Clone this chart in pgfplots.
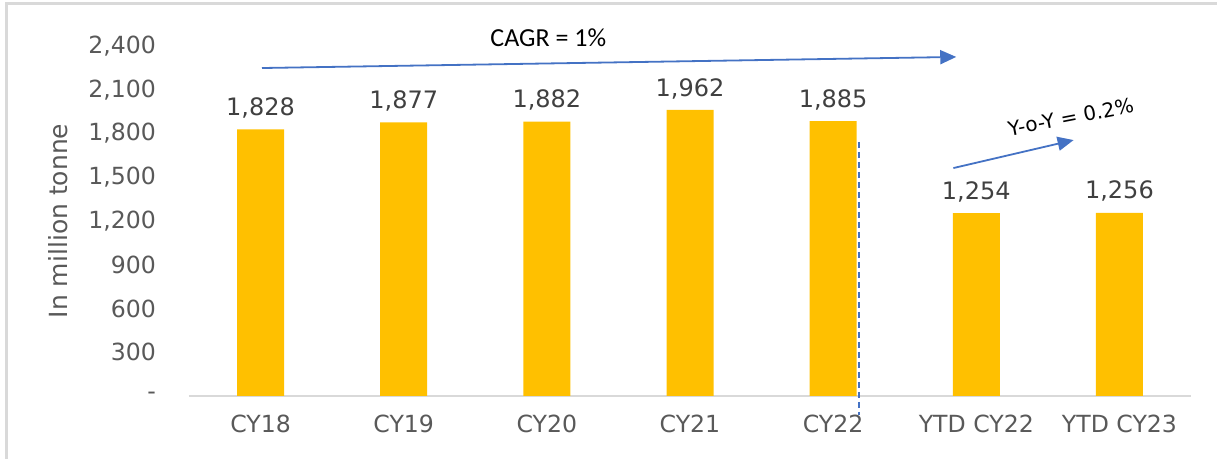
\documentclass[border=0pt]{standalone}
\usepackage{fontspec}
\setmainfont{DejaVu Sans}
\newfontfamily\cagrfont{Carlito}
\usepackage{pgfplots}
\pgfplotsset{compat=1.18}
\usetikzlibrary{arrows.meta}

\definecolor{baryellow}{HTML}{FFC000}
\definecolor{txtgray}{HTML}{595959}
\definecolor{lblgray}{HTML}{404040}
\definecolor{arrblue}{HTML}{4472C4}
\definecolor{framegray}{HTML}{D9D9D9}

\begin{document}
\begin{tikzpicture}
\path[use as bounding box] (-94.5pt,-31.5pt) rectangle (514pt,198pt);
% outer frame (left and top only visible)
\draw[framegray, line width=1.5pt] (-91.25pt,-31.5pt) -- (-91.25pt,196.25pt) -- (514pt,196.25pt);

\begin{axis}[
  at={(0pt,0pt)}, anchor=south west,
  scale only axis, width=501pt, height=175pt,
  ybar, bar width=23.5pt,
  xmin=-0.5, xmax=6.5, ymin=0, ymax=2400,
  xtick=data,
  xticklabels={CY18,CY19,CY20,CY21,CY22,YTD CY22,YTD CY23},
  ytick={0,300,...,2400},
  yticklabels={-,300,600,900,{1,200},{1,500},{1,800},{2,100},{2,400}},
  axis x line*=bottom, axis y line*=left,
  x axis line style={draw=framegray, line width=1pt, -},
  y axis line style={draw=none},
  major tick length=0pt,
  tick style={draw=none},
  every tick label/.append style={font=\fontsize{11.8}{13}\selectfont, text=txtgray},
  yticklabel style={xshift=-13pt},
  xticklabel style={yshift=-6pt},
  ylabel={In million tonne},
  every axis y label/.style={at={(axis description cs:-0.131,0.5)}, rotate=90, anchor=center,
    font=\fontsize{12.5}{14}\selectfont, text=txtgray},
  /pgf/number format/assume math mode=true,
  nodes near coords={\pgfmathprintnumber[fixed, 1000 sep={,}]{\pgfplotspointmeta}},
  nodes near coords style={font=\fontsize{12}{14}\selectfont, text=lblgray, yshift=2pt},
  clip=false,
]
\addplot[fill=baryellow, draw=none] coordinates {
  (0,1828) (1,1877) (2,1882) (3,1962) (4,1885) (5,1254) (6,1256)
};

% CAGR arrow
\draw[arrblue, line width=0.9pt, -{Triangle[length=8pt,width=7pt]}]
  (axis cs:0.01,2249) -- (axis cs:4.86,2325);
\node[text=black, font=\cagrfont\fontsize{13}{15}\selectfont] at (axis cs:2.01,2455) {CAGR = 1\%};

% Y-o-Y arrow
\draw[arrblue, line width=0.9pt, -{Triangle[length=8pt,width=7pt]}]
  (axis cs:4.84,1563) -- (axis cs:5.68,1755);
\node[text=black, rotate=11, font=\fontsize{10}{12}\selectfont] at (axis cs:5.66,1913) {Y-o-Y = 0.2\%};

% dashed separator
\draw[arrblue, line width=1pt, dash pattern=on 3pt off 2pt]
  (axis cs:4.178,1742) -- (axis cs:4.178,-130);
\end{axis}
\end{tikzpicture}
\end{document}
